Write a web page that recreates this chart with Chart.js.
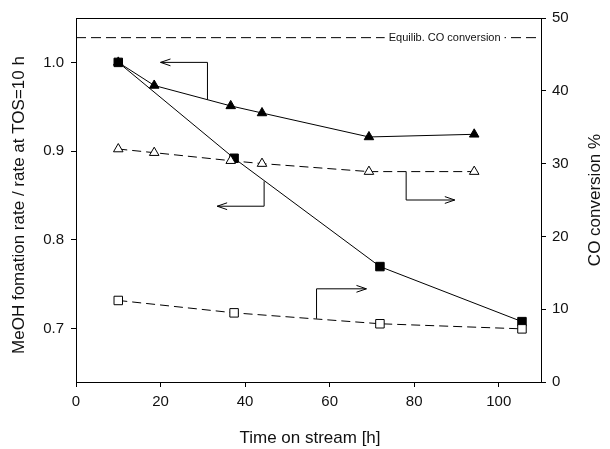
<!DOCTYPE html>
<html>
<head>
<meta charset="utf-8">
<script src="https://cdn.jsdelivr.net/npm/chart.js@4/dist/chart.umd.min.js"></script>
<style>
  html,body{margin:0;padding:0;background:#fff;}
  #wrap{width:610px;height:449px;}
</style>
</head>
<body>
<div id="wrap"><canvas id="c" width="610" height="449"></canvas></div>
<script>
// tick values
const xTicks = [0, 20, 40, 60, 80, 100];
const leftTicks = [0.7, 0.8, 0.9, 1.0];
const rightTicks = [0, 10, 20, 30, 40, 50];

// triangle series (rate = left axis, conversion = right axis)
const timeTri = [10, 18.5, 36.6, 44, 69.3, 94.2];
const rateTri = [1.0, 0.974, 0.951, 0.943, 0.916, 0.919];
const convTri = [32.0, 31.5, 30.4, 30.0, 28.9, 28.9];

// square series
const timeSq = [10, 37.4, 71.9, 105.5];
const rateSq = [1.0, 0.892, 0.770, 0.708];
const convSq = [11.2, 9.5, 8.0, 7.3];

// equilibrium CO conversion (right axis)
const equilibConv = 47.3;
const equilibLabel = "Equilib. CO conversion";
const equilibLabelX = 87.2;

// pointer arrows, data units: [x, y] start → corner → tip
const arrowTriRate = [[31.1, 0.958], [31.1, 1.0], [20.0, 1.0]];
const arrowSqRate  = [[44.5, 0.866], [44.5, 0.838], [33.4, 0.838]];
const arrowTriConv = [[78.1, 28.9], [78.1, 25.0], [89.6, 25.0]];
const arrowSqConv  = [[56.9, 8.7], [56.9, 12.8], [68.7, 12.8]];

const FONT = "'Liberation Sans', Arial, sans-serif";
const INK = "#111";

function pts(xs, ys){ return xs.map((x,i)=>({x, y:ys[i]})); }

const annot = {
  id: "annot",
  beforeDatasetsDraw(chart){
    const {ctx} = chart;
    const sx = chart.scales.x, yl = chart.scales.yL, yr = chart.scales.yR;
    const arrows = [
      {p: arrowTriRate, s: yl}, {p: arrowSqRate, s: yl},
      {p: arrowTriConv, s: yr}, {p: arrowSqConv, s: yr}
    ];
    ctx.save();
    ctx.strokeStyle = "#000";
    ctx.lineWidth = 1;
    for (const a of arrows){
      const P = a.p.map(([x,y])=>[sx.getPixelForValue(x), a.s.getPixelForValue(y)]);
      ctx.beginPath();
      ctx.moveTo(P[0][0], P[0][1]);
      for (let i=1;i<P.length;i++) ctx.lineTo(P[i][0], P[i][1]);
      ctx.stroke();
      // open arrowhead
      const [tx,ty] = P[P.length-1], [bx,by] = P[P.length-2];
      const ang = Math.atan2(ty-by, tx-bx);
      const L = 10.5, w = 0.33;
      ctx.beginPath();
      ctx.moveTo(tx - L*Math.cos(ang-w), ty - L*Math.sin(ang-w));
      ctx.lineTo(tx, ty);
      ctx.lineTo(tx - L*Math.cos(ang+w), ty - L*Math.sin(ang+w));
      ctx.stroke();
    }
    ctx.restore();
  },
  afterDatasetsDraw(chart){
    const {ctx, chartArea} = chart;
    const sx = chart.scales.x, yr = chart.scales.yR;
    ctx.save();
    ctx.font = "11px " + FONT;
    const tw = ctx.measureText(equilibLabel).width;
    const cx = sx.getPixelForValue(equilibLabelX), cy = yr.getPixelForValue(equilibConv);
    ctx.fillStyle = "#fff";
    ctx.fillRect(cx - tw/2 - 4, cy - 7, tw + 8, 14);
    ctx.fillStyle = INK;
    ctx.textAlign = "center";
    ctx.textBaseline = "middle";
    ctx.fillText(equilibLabel, cx, cy + 0.5);
    // top frame line
    ctx.strokeStyle = "#000";
    ctx.lineWidth = 1;
    ctx.beginPath();
    ctx.moveTo(chartArea.left, chartArea.top + 0.5);
    ctx.lineTo(chartArea.right, chartArea.top + 0.5);
    ctx.stroke();
    ctx.restore();
  },
  afterDraw(chart){
    const {ctx} = chart;
    ctx.save();
    ctx.fillStyle = INK;
    ctx.font = "17px " + FONT;
    ctx.textAlign = "center";
    ctx.textBaseline = "middle";
    ctx.fillText("Time on stream [h]", 310, 438);
    ctx.translate(19, 205);
    ctx.rotate(-Math.PI/2);
    ctx.fillText("MeOH fomation rate / rate at TOS=10 h", 0, 0);
    ctx.restore();
    ctx.save();
    ctx.fillStyle = INK;
    ctx.font = "17px " + FONT;
    ctx.textAlign = "center";
    ctx.textBaseline = "middle";
    ctx.translate(595, 200);
    ctx.rotate(-Math.PI/2);
    ctx.fillText("CO conversion %", 0, 0);
    ctx.restore();
  }
};

const axisCommon = {
  border: {display: true, color: "#000", width: 1},
  grid: {drawOnChartArea: false, drawTicks: true, tickLength: 5, color: "#000"},
};

new Chart(document.getElementById("c"), {
  type: "line",
  data: {
    datasets: [
      {label: "open squares", data: pts(timeSq, convSq), yAxisID: "yR",
       borderColor: "#000", borderWidth: 1, borderDash: [9,5],
       pointStyle: "rect", pointRadius: 6, pointBackgroundColor: "#fff", pointBorderColor: "#000", pointBorderWidth: 1},
      {label: "open triangles", data: pts(timeTri, convTri), yAxisID: "yR",
       borderColor: "#000", borderWidth: 1, borderDash: [9,5],
       pointStyle: "triangle", pointRadius: 5.5, pointBackgroundColor: "#fff", pointBorderColor: "#000", pointBorderWidth: 1},
      {label: "filled squares", data: pts(timeSq, rateSq), yAxisID: "yL",
       borderColor: "#000", borderWidth: 1,
       pointStyle: "rect", pointRadius: 6, pointBackgroundColor: "#000", pointBorderColor: "#000"},
      {label: "filled triangles", data: pts(timeTri, rateTri), yAxisID: "yL",
       borderColor: "#000", borderWidth: 1,
       pointStyle: "triangle", pointRadius: 5.5, pointBackgroundColor: "#000", pointBorderColor: "#000"},
      {label: "equilibrium", data: [{x:0, y:equilibConv}, {x:110, y:equilibConv}], yAxisID: "yR",
       borderColor: "#000", borderWidth: 1, borderDash: [10,5], pointRadius: 0}
    ]
  },
  options: {
    responsive: false,
    animation: false,
    devicePixelRatio: 1,
    layout: {padding: {top: 18, left: 0, right: 0, bottom: 0}},
    elements: {line: {tension: 0, fill: false}},
    plugins: {legend: {display: false}, tooltip: {enabled: false}},
    scales: {
      x: {
        type: "linear", min: 0, max: 110, ...axisCommon,
        afterBuildTicks: s => { s.ticks = xTicks.map(v=>({value:v})); },
        afterFit: s => { s.height = 67; },
        ticks: {color: INK, font: {family: FONT, size: 15}, padding: 6, maxRotation: 0}
      },
      yL: {
        type: "linear", position: "left", min: 0.64, max: 1.05, ...axisCommon,
        afterBuildTicks: s => { s.ticks = leftTicks.map(v=>({value:v})); },
        afterFit: s => { s.width = 76; },
        ticks: {color: INK, font: {family: FONT, size: 15}, padding: 7, callback: v => v.toFixed(1)}
      },
      yR: {
        type: "linear", position: "right", min: 0, max: 50, ...axisCommon,
        afterBuildTicks: s => { s.ticks = rightTicks.map(v=>({value:v})); },
        afterFit: s => { s.width = 69; },
        ticks: {color: INK, font: {family: FONT, size: 15}, padding: 6}
      }
    }
  },
  plugins: [annot]
});
</script>
</body>
</html>
